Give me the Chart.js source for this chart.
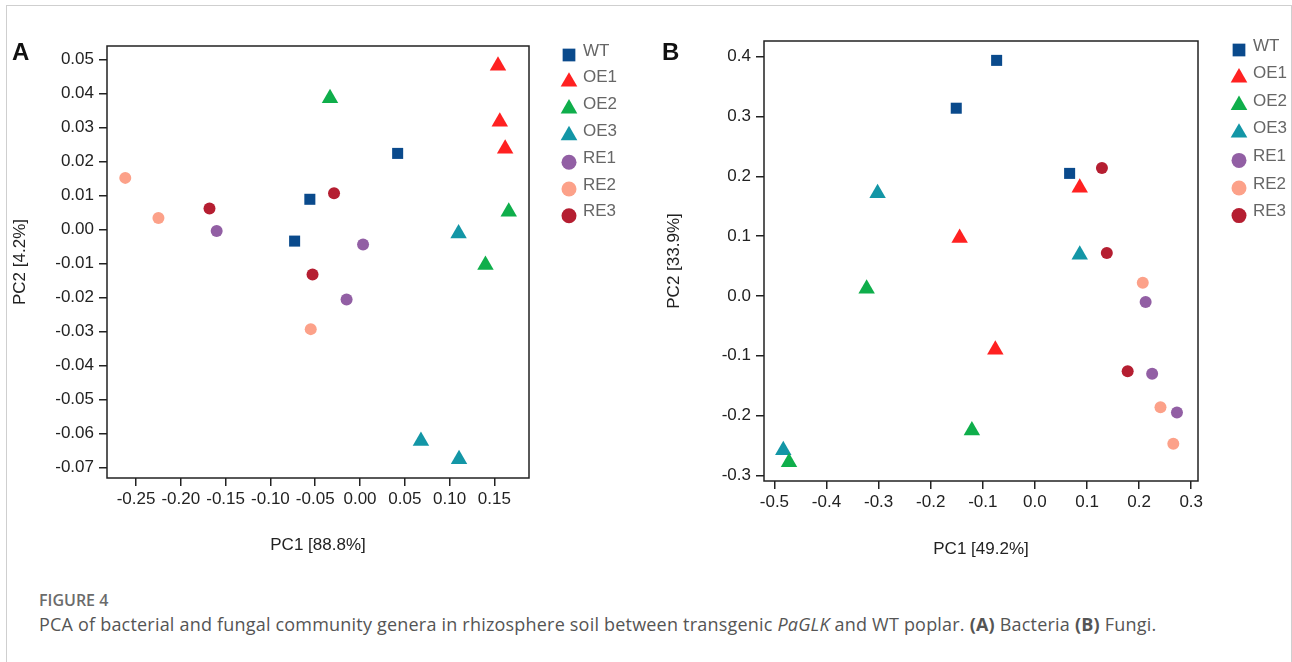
<!DOCTYPE html>
<html lang="en">
<head>
<meta charset="UTF-8">
<title>Figure 4 - PCA of rhizosphere genera</title>
<script src="https://cdn.jsdelivr.net/npm/chart.js"></script>
<style>
body { margin: 0; background: #fff; width: 1292px; height: 662px; overflow: hidden; position: relative; }
#frame { position: absolute; left: 6px; top: 5px; width: 1284px; height: 700px; border: 1px solid #cfcfcf; border-bottom: none; }
canvas { position: absolute; top: 0; }
#chartA { left: 0; }
#chartB { left: 650px; }
.tag { position: absolute; top: 40px; font: bold 24px/24px "Liberation Sans", Arial, sans-serif; color: #111; }
#capHead { position: absolute; left: 39px; top: 592px; font: 600 16px/16px "Open Sans", sans-serif; color: #6b6b6b; }
#capText { position: absolute; left: 39px; top: 615px; font: 18px/18px "Open Sans", sans-serif; letter-spacing: 0.2px; color: #555; white-space: nowrap; }
</style>
</head>
<body>
<div id="frame"></div>
<canvas id="chartA" width="650" height="570"></canvas>
<canvas id="chartB" width="642" height="570"></canvas>
<div class="tag" style="left:12px">A</div>
<div class="tag" style="left:662px">B</div>
<div id="capHead">FIGURE 4</div>
<div id="capText">PCA of bacterial and fungal community genera in rhizosphere soil between transgenic <i>PaGLK</i> and WT poplar. <b>(A)</b> Bacteria <b>(B)</b> Fungi.</div>

<script>
// groups and their marker look
const groups = ['WT', 'OE1', 'OE2', 'OE3', 'RE1', 'RE2', 'RE3'];
const shapes = ['rect', 'triangle', 'triangle', 'triangle', 'circle', 'circle', 'circle'];
const colors = ['#0a4a8c', '#ff2121', '#0fae4b', '#1396a6', '#925fa4', '#fca189', '#b51e31'];

// (A) bacteria: [PC1, PC2]
const bactWT  = [[0.042, 0.0224], [-0.056, 0.0089], [-0.073, -0.0034]];
const bactOE1 = [[0.154, 0.0482], [0.156, 0.0317], [0.162, 0.0238]];
const bactOE2 = [[-0.0335, 0.0386], [0.166, 0.0052], [0.140, -0.0104]];
const bactOE3 = [[0.110, -0.0012], [0.068, -0.0622], [0.1105, -0.0676]];
const bactRE1 = [[-0.160, -0.0004], [0.0034, -0.0044], [-0.015, -0.0206]];
const bactRE2 = [[-0.262, 0.0152], [-0.225, 0.0034], [-0.055, -0.0293]];
const bactRE3 = [[-0.168, 0.0062], [-0.029, 0.0107], [-0.053, -0.0132]];

// (B) fungi: [PC1, PC2]
const fungWT  = [[-0.0735, 0.394], [-0.151, 0.314], [0.0666, 0.205]];
const fungOE1 = [[0.086, 0.181], [-0.1445, 0.097], [-0.076, -0.090]];
const fungOE2 = [[-0.323, 0.012], [-0.121, -0.225], [-0.472, -0.278]];
const fungOE3 = [[-0.302, 0.172], [0.086, 0.069], [-0.483, -0.258]];
const fungRE1 = [[0.2125, -0.010], [0.225, -0.130], [0.2726, -0.195]];
const fungRE2 = [[0.207, 0.022], [0.241, -0.186], [0.2656, -0.247]];
const fungRE3 = [[0.1286, 0.214], [0.138, 0.072], [0.178, -0.126]];

// tick labels
const bactXTicks = [-0.25, -0.20, -0.15, -0.10, -0.05, 0.00, 0.05, 0.10, 0.15];
const bactYTicks = [0.05, 0.04, 0.03, 0.02, 0.01, 0.00, -0.01, -0.02, -0.03, -0.04, -0.05, -0.06, -0.07];
const fungXTicks = [-0.5, -0.4, -0.3, -0.2, -0.1, 0.0, 0.1, 0.2, 0.3];
const fungYTicks = [0.4, 0.3, 0.2, 0.1, 0.0, -0.1, -0.2, -0.3];

const FONT = '"Liberation Sans", Arial, sans-serif';
Chart.defaults.font.family = FONT;
Chart.defaults.color = '#222';

const markerSize = { rect: 7.8, triangle: 9.5, circle: 6 };
const legendSize = { rect: 9, triangle: 9.6, circle: 7.5 };

// box around the plot area
const framePlugin = {
  id: 'frame',
  afterDraw(chart) {
    const a = chart.chartArea, ctx = chart.ctx;
    ctx.save();
    ctx.strokeStyle = '#222';
    ctx.lineWidth = 1.5;
    ctx.strokeRect(a.left, a.top, a.right - a.left, a.bottom - a.top);
    ctx.restore();
  }
};

// legend to the right of the plot, marker a bit below the text line
const sideLegend = {
  id: 'sideLegend',
  afterDraw(chart, args, o) {
    const ctx = chart.ctx;
    ctx.save();
    ctx.font = '17px ' + FONT;
    ctx.textBaseline = 'middle';
    chart.data.datasets.forEach((ds, i) => {
      const y = o.top + i * o.step;
      ctx.fillStyle = ds.backgroundColor;
      Chart.helpers.drawPoint(ctx, {pointStyle: ds.pointStyle, radius: legendSize[ds.pointStyle], rotation: 0, borderWidth: 0}, o.markX, y + 4);
      ctx.fillStyle = '#666';
      ctx.fillText(ds.label, o.textX, y);
    });
    ctx.restore();
  }
};

function makeSets(lists) {
  return groups.map((g, i) => ({
    label: g,
    data: lists[i].map(p => ({x: p[0], y: p[1]})),
    pointStyle: shapes[i],
    backgroundColor: colors[i],
    borderColor: colors[i],
    borderWidth: 0,
    pointRadius: markerSize[shapes[i]]
  }));
}

function axis(min, max, ticks, digits, title, titlePad, size, isX) {
  return {
    type: 'linear',
    min: min, max: max,
    afterBuildTicks: ax => { ax.ticks = ticks.map(v => ({value: v})); },
    afterFit: s => { if (isX) s.height = size; else s.width = size; },
    border: { display: false },
    grid: { drawOnChartArea: false, drawTicks: true, tickLength: 8, color: '#222', lineWidth: 1.5 },
    ticks: { callback: v => v.toFixed(digits), font: { size: 17 }, color: '#222', padding: isX ? 3 : 5, autoSkip: false, maxRotation: 0 },
    title: { display: true, text: title, font: { size: 17 }, color: '#222', padding: titlePad }
  };
}

function makePanel(id, lists, sc, pad, legend) {
  new Chart(document.getElementById(id), {
    type: 'scatter',
    data: { datasets: makeSets(lists) },
    options: {
      responsive: false,
      animation: false,
      layout: { padding: pad },
      plugins: { legend: { display: false }, tooltip: { enabled: false }, sideLegend: legend },
      scales: {
        x: axis(sc.xmin, sc.xmax, sc.xt, sc.dig, sc.xtitle, { top: 0, bottom: sc.xpad }, sc.xh, true),
        y: axis(sc.ymin, sc.ymax, sc.yt, sc.dig, sc.ytitle, { top: sc.ypad, bottom: 0 }, sc.yw, false)
      }
    },
    plugins: [framePlugin, sideLegend]
  });
}

makePanel('chartA',
  [bactWT, bactOE1, bactOE2, bactOE3, bactRE1, bactRE2, bactRE3],
  { xmin: -0.2824, xmax: 0.1886, ymin: -0.0731, ymax: 0.054, xt: bactXTicks, yt: bactYTicks, dig: 2,
    xtitle: 'PC1 [88.8%]', ytitle: 'PC2 [4.2%]', xpad: 14, ypad: 10, xh: 92, yw: 107 },
  { left: 0, top: 46, right: 121, bottom: 0 },
  { markX: 569, textX: 583, top: 51, step: 26.8 });

makePanel('chartB',
  [fungWT, fungOE1, fungOE2, fungOE3, fungRE1, fungRE2, fungRE3],
  { xmin: -0.520, xmax: 0.313, ymin: -0.3094, ymax: 0.4264, xt: fungXTicks, yt: fungYTicks, dig: 1,
    xtitle: 'PC1 [49.2%]', ytitle: 'PC2 [33.9%]', xpad: 10, ypad: 14, xh: 89, yw: 114 },
  { left: 0, top: 41, right: 94, bottom: 0 },
  { markX: 589, textX: 603, top: 46, step: 27.6 });
</script>
</body>
</html>
